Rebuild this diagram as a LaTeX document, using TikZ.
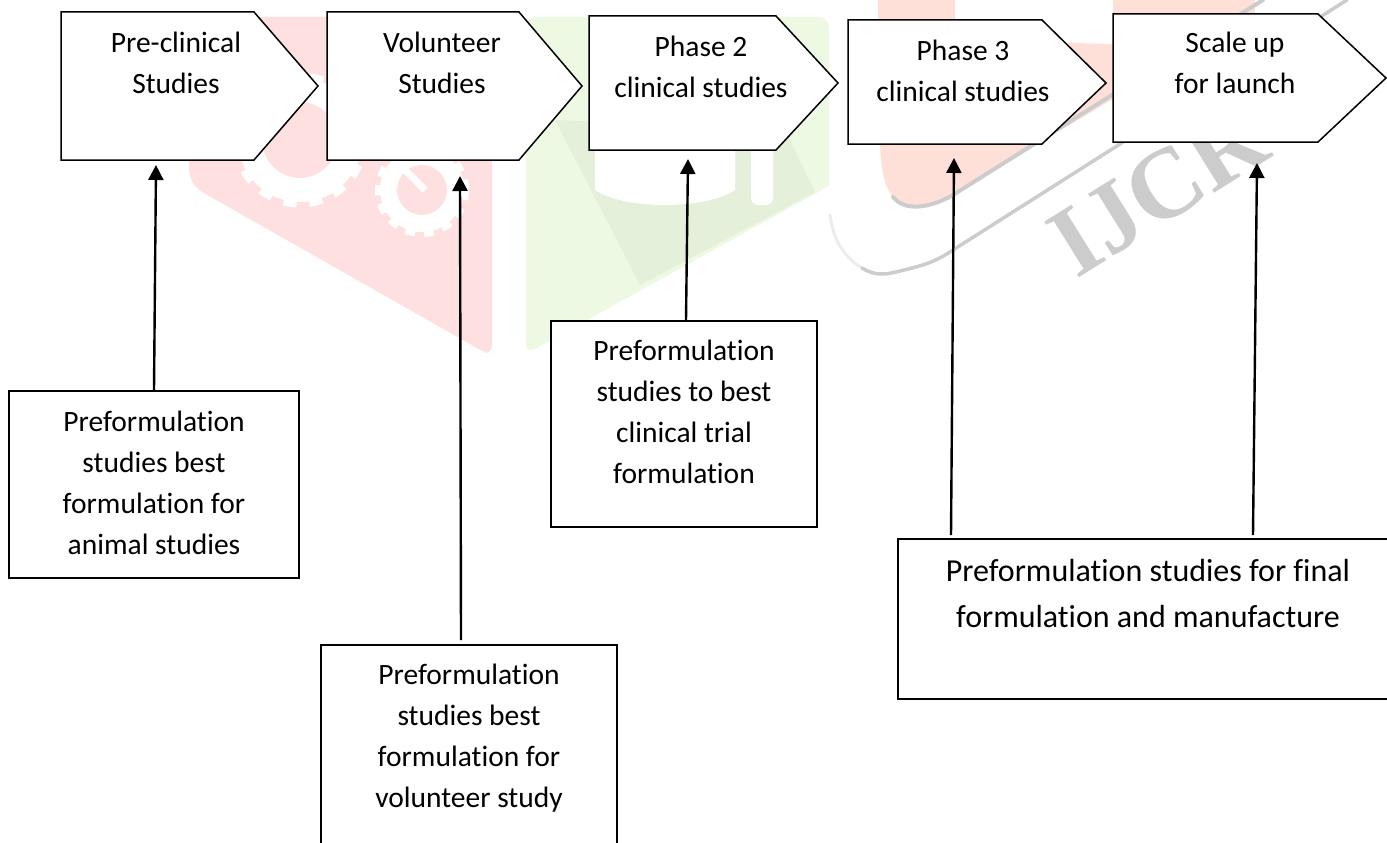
\documentclass[tikz,border=0pt]{standalone}
\usepackage{fontspec}
\setmainfont{Carlito}[Ligatures=NoCommon]
\newfontfamily\wmfont{Liberation Serif}
\usetikzlibrary{arrows.meta}
\definecolor{wmred}{RGB}{255,224,224}
\definecolor{wmorange}{RGB}{255,224,216}
\definecolor{wmgreen}{RGB}{237,249,226}
\definecolor{wmgreendark}{RGB}{229,240,218}
\definecolor{wmgrey}{RGB}{204,204,204}
\definecolor{wmpale}{RGB}{236,236,236}
\tikzset{
  shapeline/.style={draw=black,line width=1.5pt,fill=white,line join=miter},
  label text/.style={align=center,font=\fontsize{29.5}{41}\selectfont,inner sep=0pt,text=black},
  connector/.style={line width=2.4pt,-{Triangle[width=15pt,length=15pt]},black},
  swoosh/.style={draw=wmgrey,line width=4pt,line cap=round},
}
\begin{document}
\begin{tikzpicture}[x=1pt,y=-1pt]
\useasboundingbox (0,0) rectangle (1387,843);
% watermark
\fill[wmred,rounded corners=8pt] (189,17) -- (492,17) -- (492,354) -- (484,352) -- (195,188) -- (189,175) -- cycle;
\begin{scope}
\clip (189,17) -- (492,17) -- (492,354) -- (195,188) -- (189,175) -- cycle;
\draw[white,line width=24pt] (300,140) circle[radius=50];
\draw[white,line width=7pt,dash pattern=on 13pt off 13pt] (300,140) circle[radius=64];
\draw[white,line width=17pt] (422,190) circle[radius=33.5];
\draw[white,line width=6pt,dash pattern=on 10pt off 9pt] (422,190) circle[radius=44];
\draw[white,line width=7pt] (405,170) -- (425,190);
\end{scope}
\fill[wmgreen,rounded corners=10pt] (526,17) -- (829,17) -- (829,186) -- (526,354) -- cycle;
\fill[wmgreendark] (555,120) -- (640,285) -- (815,192) -- (785,130) -- cycle;
\fill[wmgreen] (810,125) -- (829,125) -- (829,186) -- (815,192) -- cycle;
\fill[white] (595,140) -- (735,140) -- (735,190) .. controls (705,210) and (625,210) .. (595,190) -- cycle;
\fill[white,rounded corners=7pt] (751,140) rectangle (773,205);
\fill[wmorange] (878,0) -- (955,0) -- (955,40) -- (1113,44) -- (1113,99) -- (953,195) .. controls (930,208) and (905,210) .. (893,197) .. controls (880,180) and (878,165) .. (878,0) -- cycle;
\fill[wmorange] (1113,0) rectangle (1255,16);
\draw[swoosh] (893,197) .. controls (905,212) and (930,208) .. (953,195) -- (1263,0);
\draw[wmpale,line width=3pt,line cap=round] (830,215) .. controls (833,240) and (845,258) .. (862,268);
\draw[swoosh,line width=3.5pt] (862,268) .. controls (875,276) and (885,275) .. (900,271) .. controls (925,265) and (935,262) .. (953,250) -- (1347,0);
\node[rotate=32,inner sep=0pt,text=wmgrey,font=\fontsize{100}{100}\selectfont\wmfont\bfseries] (wm) at (1158,190) {IJCR};
% phase chevrons
\draw[shapeline] (61,12) -- (254,12) -- (318,86) -- (254,160) -- (61,160) -- cycle;
\draw[shapeline] (327,12) -- (519,12) -- (582,86) -- (519,160) -- (327,160) -- cycle;
\draw[shapeline] (589,16) -- (776,16) -- (838,83) -- (776,150) -- (589,150) -- cycle;
\draw[shapeline] (848,20) -- (1042,20) -- (1106,83) -- (1042,144) -- (848,144) -- cycle;
\draw[shapeline] (1113,14) -- (1318,14) -- (1386,78) -- (1318,142) -- (1113,142) -- cycle;
\node[label text] (c1) at (176,63) {Pre-clinical\\Studies};
\node[label text] (c2) at (442,63) {Volunteer\\Studies};
\node[label text] (c3) at (701,67) {Phase 2\\clinical studies};
\node[label text] (c4) at (963,71) {Phase 3\\clinical studies};
\node[label text] (c5) at (1235,63) {Scale up\\for launch};
% boxes
\node[shapeline,minimum width=290pt,minimum height=187pt,inner sep=0pt] (b1) at (154,484.5) {};
\node[shapeline,minimum width=266pt,minimum height=206pt,inner sep=0pt] (b3) at (684,424) {};
\path[fill=white] (321,645) rectangle (617,843);
\draw[draw=black,line width=1.5pt] (321,843) -- (321,645) -- (617,645) -- (617,843);
\path[fill=white] (898,539) rectangle (1387,699);
\draw[draw=black,line width=1.5pt] (1387,539) -- (898,539) -- (898,699) -- (1387,699);
\node[label text] (t1) at (154,483) {Preformulation\\studies best\\formulation for\\animal studies};
\node[label text] (t2) at (469,738) {Preformulation\\studies best\\formulation for\\volunteer study};
\node[label text] (t3) at (684,412) {Preformulation\\studies to best\\clinical trial\\formulation};
\node[label text,font=\fontsize{32}{46}\selectfont] (t4) at (1148,594) {Preformulation studies for final\\formulation and manufacture};
% connector ends
\coordinate (a1) at (156,165);
\coordinate (s2) at (461,640);
\coordinate (a2) at (460,176);
\coordinate (a3) at (688,159);
\coordinate (s4) at (951,535);
\coordinate (a4) at (954,158);
\coordinate (s5) at (1253,535);
\coordinate (a5) at (1257,163);
\draw[connector] (b1.north) -- (a1);
\draw[connector] (s2) -- (a2);
\draw[connector] ([xshift=2pt]b3.north) -- (a3);
\draw[connector] (s4) -- (a4);
\draw[connector] (s5) -- (a5);
\end{tikzpicture}
\end{document}
